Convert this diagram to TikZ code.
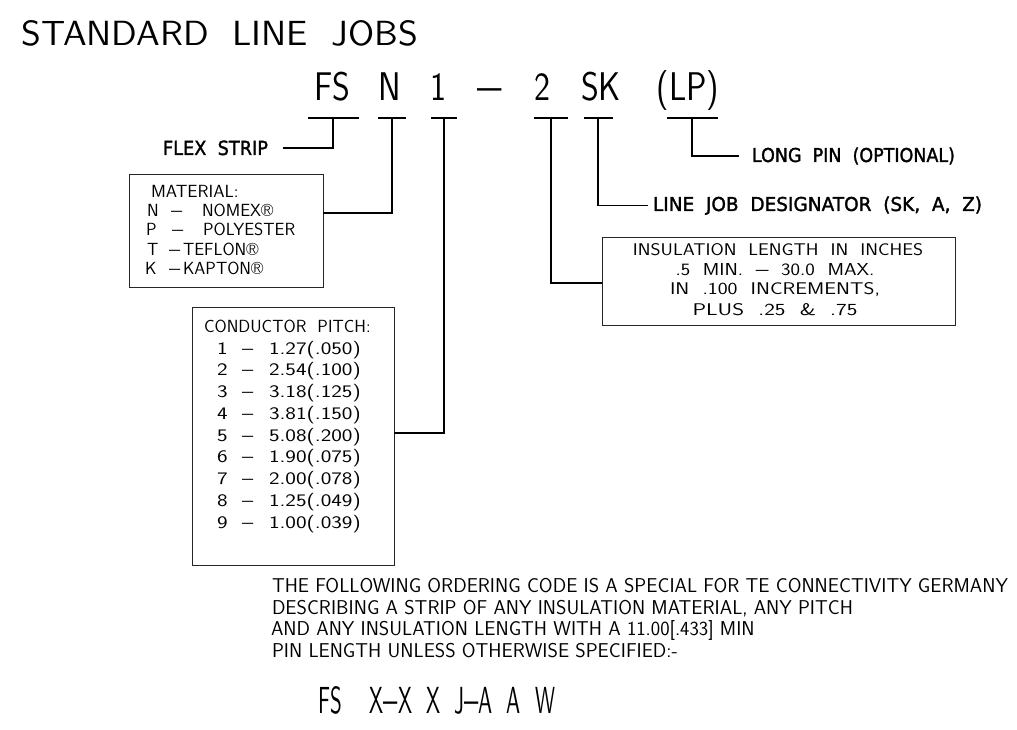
\documentclass[tikz,border=0pt]{standalone}
\usepackage{fontspec}
\usepackage{graphicx}
\newfontfamily\labfont[FakeBold=1.6]{DejaVu Sans}
\usetikzlibrary{calc}
\newcommand\fit[3]{\resizebox{#1pt}{#2pt}{#3}}
\newcommand\parfont{\sffamily\fontsize{20}{24}\selectfont}
\newcommand\codefont{\sffamily\fontsize{40}{40}\selectfont}
\newcommand\bdash{\scalebox{1.35}[1]{–}}
\newlength\Lone
\begin{document}
\settowidth{\Lone}{\parfont THE FOLLOWING ORDERING CODE IS A SPECIAL FOR TE CONNECTIVITY GERMANY}%
\pgfmathsetmacro\hf{736/\Lone}%
\begin{tikzpicture}[x=1pt,y=-1pt,
  txt/.style={inner sep=0pt, outer sep=0pt, anchor=base west},
  code/.style={inner sep=0pt, outer sep=0pt, anchor=base},
  bar/.style={fill=black, inner sep=0pt, outer sep=0pt, minimum height=2pt},
  conn/.style={line width=1.6pt, line join=miter},
  box/.style={draw=black!85, line width=1pt, inner sep=0pt, outer sep=0pt, anchor=north west},
  boxtxt/.style={txt, font=\sffamily\fontsize{17.6}{20}\selectfont},
  instxt/.style={code, font=\sffamily\fontsize{17.3}{20}\selectfont},
  lab/.style={inner sep=0pt, outer sep=0pt, anchor=base west, font=\labfont},
]
\useasboundingbox (0,0) rectangle (1017,730);

% title
\node[txt] (title) at (22,46) {\fit{396}{25}{\sffamily STANDARD\ \ LINE\ \ JOBS}};

% code line
\node[code] (fs)  at (332,101) {\scalebox{0.85}[1]{\codefont FS}};
\node[code] (n)   at (390,101) {\scalebox{0.85}[1]{\codefont N}};
\node[code] (one) at (438,101) {\scalebox{0.85}[1]{\codefont 1}};
\node[code] (dsh) at (490,101) {\scalebox{1.3}[1]{\codefont –}};
\node[code] (two) at (542,101) {\scalebox{0.85}[1]{\codefont 2}};
\node[code] (sk)  at (601,101) {\scalebox{0.85}[1]{\codefont SK}};
\node[code] (lp)  at (688,101) {\scalebox{0.85}[1]{\codefont (LP)}};

% bars
\node[bar, minimum width=51pt] (fsb)  at (333,118) {};
\node[bar, minimum width=28pt] (nb)   at (392,118) {};
\node[bar, minimum width=26pt] (oneb) at (444,118) {};
\node[bar, minimum width=34pt] (twob) at (551,118) {};
\node[bar, minimum width=29pt] (skb)  at (598,118) {};
\node[bar, minimum width=51pt] (lpb)  at (692,118) {};

% labels
\node[lab] (flex) at (163,155) {\fit{105}{14.5}{FLEX\ \ STRIP}};
\node[lab] (lpl)  at (752,162) {\fit{203}{14.5}{LONG\ \ PIN\ \ (OPTIONAL)}};
\node[lab] (ljd)  at (653,211) {\fit{329}{14.5}{LINE\ \ JOB\ \ DESIGNATOR\ \ (SK,\ \ A,\ \ Z)}};

% material box
\node[box, minimum width=194pt, minimum height=112pt] (mat) at (129,175) {};
\node[boxtxt] (mh) at (151,198) {\scalebox{1.03}[1]{MATERIAL:}};
\node[boxtxt] (m1a) at (147,217) {N};
\node[boxtxt] (m1b) at (171,217) {\bdash};
\node[boxtxt] (m1c) at (202,217) {NOMEX®};
\node[boxtxt] (m2a) at (146,236) {P};
\node[boxtxt] (m2b) at (172,236) {\bdash};
\node[boxtxt] (m2c) at (203,236) {POLYESTER};
\node[boxtxt] (m3a) at (147,255) {T};
\node[boxtxt] (m3b) at (169,255) {\bdash};
\node[boxtxt] (m3c) at (183,255) {TEFLON®};
\node[boxtxt] (m4a) at (145,274) {K};
\node[boxtxt] (m4b) at (169,274) {\bdash};
\node[boxtxt] (m4c) at (183,274) {KAPTON®};

% conductor box
\node[box, minimum width=202pt, minimum height=258pt] (cond) at (192,307) {};
\node[boxtxt] (ch) at (204,332) {CONDUCTOR\ \ PITCH:};
\foreach \d/\v [count=\i] in {1/1.27(.050),2/2.54(.100),3/3.18(.125),4/3.81(.150),5/5.08(.200),6/1.90(.075),7/2.00(.078),8/1.25(.049),9/1.00(.039)}{
  \node[boxtxt] (cd\i) at (217,{354+21.75*(\i-1)}) {\scalebox{1.28}[1]{\d}};
  \node[boxtxt] (cm\i) at (242,{354+21.75*(\i-1)}) {\bdash};
  \node[boxtxt] (cv\i) at (269,{354+21.75*(\i-1)}) {\scalebox{1.28}[1]{\v}};
}

% insulation box
\node[box, minimum width=353pt, minimum height=88pt] (ins) at (602,237) {};
\node[instxt] (i1) at (778,255) {\fit{290}{12}{INSULATION\ \ LENGTH\ \ IN\ \ INCHES}};
\node[instxt] (i2) at (775,275) {\fit{199}{12}{.5\ \ MIN.\ \ \bdash\ \ 30.0\ \ MAX.}};
\node[instxt] (i3) at (775,294) {\fit{210}{12}{IN\ \ .100\ \ INCREMENTS,}};
\node[instxt] (i4) at (775,315) {\fit{165}{12}{PLUS\ \ .25\ \ \&\ \ .75}};

% connectors
\draw[conn] (fsb.center) |- ([xshift=15pt]flex.east);
\draw[conn] (nb.center) |- ([yshift=18pt]mat.east);
\draw[conn] (oneb.center) |- ([yshift=3pt]cond.east);
\draw[conn] (twob.center) |- ([yshift=-2pt]ins.west);
\draw[conn] (skb.center) |- ([xshift=-5pt]ljd.west);
\draw[conn] (lpb.center) |- ([xshift=-13pt]lpl.west);

% paragraph
\node[txt] (p1) at (272,592) {\scalebox{\hf}[1]{\parfont THE FOLLOWING ORDERING CODE IS A SPECIAL FOR TE CONNECTIVITY GERMANY}};
\node[txt] (p2) at (272,614) {\scalebox{\hf}[1]{\parfont DESCRIBING A STRIP OF ANY INSULATION MATERIAL, ANY PITCH}};
\node[txt] (p3) at (271,635) {\scalebox{\hf}[1]{\parfont AND ANY INSULATION LENGTH WITH A 11.00[.433] MIN}};
\node[txt] (p4) at (272,657) {\scalebox{\hf}[1]{\parfont PIN LENGTH UNLESS OTHERWISE SPECIFIED:-}};

% bottom code
\node[txt] (bc) at (318,713) {\fit{237}{27}{\sffamily FS\ \ \ \ X\bdash X\ \ X\ \ J\bdash A\ \ A\ \ W}};
\end{tikzpicture}
\end{document}
